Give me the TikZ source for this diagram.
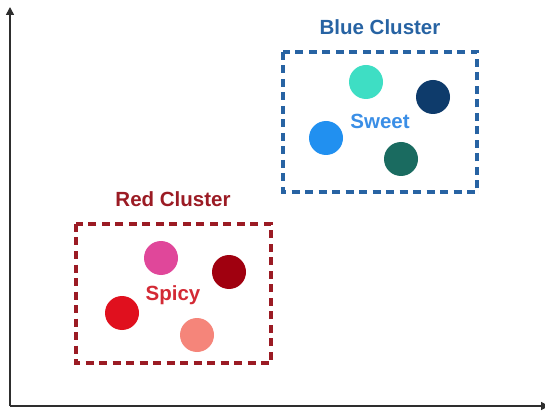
\documentclass[tikz,border=0pt]{standalone}
\usepackage{fontspec}
\setmainfont{Liberation Sans}
\usetikzlibrary{arrows.meta}
\definecolor{axisgray}{HTML}{2E2E2E}
\definecolor{bluebox}{HTML}{2763A3}
\definecolor{redbox}{HTML}{9B1B24}
\definecolor{sweettxt}{HTML}{3A8EE6}
\definecolor{spicytxt}{HTML}{D32A35}
\definecolor{cTeal}{HTML}{3EDEC4}
\definecolor{cNavy}{HTML}{0E3B6B}
\definecolor{cBlue}{HTML}{2190F0}
\definecolor{cPine}{HTML}{1A6B60}
\definecolor{cPink}{HTML}{E0479A}
\definecolor{cWine}{HTML}{A0000F}
\definecolor{cRed}{HTML}{E0101E}
\definecolor{cSalmon}{HTML}{F5857A}
\tikzset{
  axisline/.style={draw=axisgray, line width=1.6pt, -{Triangle[length=8pt,width=8pt,fill=axisgray]}},
  clusterbox/.style={line width=3.2pt, dash pattern=on 8pt off 5.5pt},
  title/.style={font=\fontsize{20.5}{24}\selectfont\bfseries, inner sep=0pt},
  taste/.style={font=\fontsize{20.5}{24}\selectfont\bfseries, inner sep=0pt},
  dot/.style={circle, minimum size=34pt, inner sep=0pt, draw=none, fill=#1}
}
\begin{document}
\begin{tikzpicture}[x=1pt, y=-1pt]
  \useasboundingbox (0,0) rectangle (545,411);
  % axes
  \coordinate (origin) at (10,406);
  \coordinate (ytop) at (10,7);
  \coordinate (xend) at (549,406);
  \draw[axisline] (origin) -- (ytop);
  \draw[axisline] (origin) -- (xend);

  % blue cluster
  \draw[clusterbox, draw=bluebox] (283,52) rectangle (477,192);
  \node[title, text=bluebox] (bluetitle) at (380,27) {Blue Cluster};
  \node[dot=cTeal] (b1) at (366,82) {};
  \node[dot=cNavy] (b2) at (433,97) {};
  \node[dot=cBlue] (b3) at (326,138) {};
  \node[dot=cPine] (b4) at (401,159) {};
  \node[taste, text=sweettxt] (sweet) at (380,121) {Sweet};

  % red cluster
  \draw[clusterbox, draw=redbox] (76,224) rectangle (271,363);
  \node[title, text=redbox] (redtitle) at (173,199) {Red Cluster};
  \node[dot=cPink] (r1) at (161,258) {};
  \node[dot=cWine] (r2) at (229,272) {};
  \node[dot=cRed] (r3) at (122,313) {};
  \node[dot=cSalmon] (r4) at (197,335) {};
  \node[taste, text=spicytxt] (spicy) at (173,295) {Spicy};
\end{tikzpicture}
\end{document}
